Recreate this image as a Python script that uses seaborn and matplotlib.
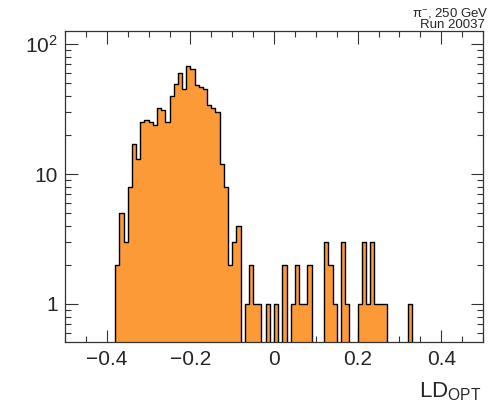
import numpy as np
import pandas as pd
import matplotlib
matplotlib.use("Agg")
import matplotlib.pyplot as plt
import seaborn as sns
from matplotlib.ticker import MultipleLocator, FixedLocator, FixedFormatter, LogLocator, NullFormatter

# =========================
# Histogram data
# =========================
bin_low = -0.38
bin_width = 0.01
counts = [2, 5, 3, 8, 17, 13, 25, 26, 25, 24,
          32, 31, 25, 40, 49, 60, 45, 68, 64, 48,
          47, 45, 34, 32, 30, 12, 8, 2, 3, 4,
          0, 1, 2, 1, 1, 0, 1, 0, 1, 0,
          2, 0, 1, 2, 1, 1, 2, 0, 0, 0,
          3, 2, 1, 0, 3, 1, 0, 0, 1, 3,
          1, 3, 1, 1, 1, 0, 0, 0, 0, 0,
          1]
x_ticks = [-0.4, -0.2, 0, 0.2, 0.4]
x_tick_labels = ["\u22120.4", "\u22120.2", "0", "0.2", "0.4"]
y_ticks = [1, 10, 100]
y_tick_labels = ["1", "10", "$10^{2}$"]
info_lines = ["\u03c0$^{-}$, 250 GeV", "Run 20037"]

edges = np.round(bin_low + np.arange(len(counts) + 1) * bin_width, 3)
df = pd.DataFrame({"ld": (edges[:-1] + edges[1:]) / 2, "n": counts})

sns.set_style("ticks")
plt.rcParams["font.family"] = ["Liberation Sans", "DejaVu Sans"]
plt.rcParams["mathtext.fontset"] = "custom"
plt.rcParams["mathtext.rm"] = "Liberation Sans"
plt.rcParams["mathtext.it"] = "Liberation Sans:italic"
plt.rcParams["mathtext.bf"] = "Liberation Sans:bold"

fig = plt.figure(figsize=(4.94, 4.04), dpi=100)
ax = fig.add_axes([65 / 494, 1 - 342 / 404, (483 - 65) / 494, (342 - 31) / 404])
ax.set_yscale("log")

sns.histplot(data=df, x="ld", weights="n", bins=edges.tolist(), element="step", fill=True,
             color="#fd9a38", alpha=1, edgecolor="black", linewidth=1.0, ax=ax)

ax.set_xlim(-0.5, 0.5)
ax.set_ylim(0.51, 126)

# ROOT-like ticks
ax.xaxis.set_major_locator(FixedLocator(x_ticks))
ax.xaxis.set_major_formatter(FixedFormatter(x_tick_labels))
ax.xaxis.set_minor_locator(MultipleLocator(0.05))
ax.yaxis.set_major_locator(FixedLocator(y_ticks))
ax.yaxis.set_major_formatter(FixedFormatter(y_tick_labels))
ax.yaxis.set_minor_locator(LogLocator(base=10, subs=np.arange(2, 10)))
ax.yaxis.set_minor_formatter(NullFormatter())
ax.tick_params(which="both", direction="in", top=True, right=True, width=0.8, color="#333333")
ax.tick_params(which="major", length=9)
ax.tick_params(which="minor", length=4.5)
ax.tick_params(axis="x", which="major", labelsize=15, pad=6)
ax.tick_params(axis="y", which="major", labelsize=15, pad=5)
for s in ax.spines.values():
    s.set_linewidth(0.9)
    s.set_color("#333333")

ax.set_xlabel("")
ax.set_ylabel("")
fig.text(481 / 494, 1 - 397 / 404, r"LD$_{\mathrm{OPT}}$", ha="right", va="baseline", fontsize=16)

fig.text(489 / 494, 1 - 16.5 / 404, info_lines[0], ha="right", va="baseline", fontsize=9.5)
fig.text(485 / 494, 1 - 28 / 404, info_lines[1], ha="right", va="baseline", fontsize=9.5)

plt.savefig("out.png", dpi=100)
